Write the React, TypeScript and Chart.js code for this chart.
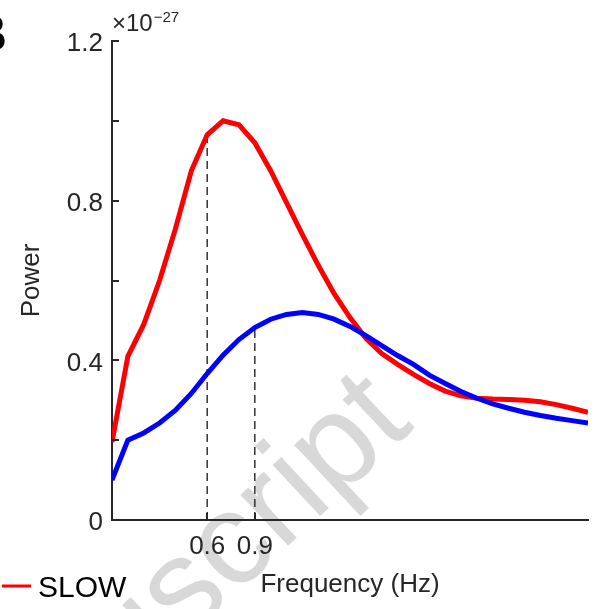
import React, { useEffect, useRef } from 'react';
import { Chart, registerables } from 'chart.js';

Chart.register(...registerables);

// ---- data (power in units of 1e-27) ----
const freqHz = [
  0.0, 0.1, 0.2, 0.3, 0.4, 0.5, 0.6, 0.7, 0.8, 0.9,
  1.0, 1.1, 1.2, 1.3, 1.4, 1.5, 1.6, 1.7, 1.8, 1.9,
  2.0, 2.1, 2.2, 2.3, 2.4, 2.5, 2.6, 2.7, 2.8, 2.9, 3.0,
];
const slowPower = [
  0.195, 0.41, 0.49, 0.60, 0.73, 0.875, 0.965, 1.0, 0.99, 0.945,
  0.875, 0.795, 0.715, 0.638, 0.567, 0.507, 0.455, 0.417, 0.39, 0.365,
  0.342, 0.323, 0.311, 0.305, 0.303, 0.302, 0.300, 0.296, 0.289, 0.28, 0.27,
];
const secondPower = [
  0.10, 0.20, 0.218, 0.243, 0.275, 0.317, 0.367, 0.413, 0.452, 0.482,
  0.503, 0.515, 0.52, 0.515, 0.503, 0.485, 0.462, 0.437, 0.412, 0.39,
  0.363, 0.342, 0.322, 0.305, 0.291, 0.280, 0.270, 0.262, 0.255, 0.249, 0.243,
];
const yTickValues = [0, 0.2, 0.4, 0.6, 0.8, 1.0, 1.2];
const yTickLabels = ['0', '', '0.4', '', '0.8', '', '1.2'];
const xTickValues = [0.6, 0.9];
const xTickLabels = ['0.6', '0.9'];
const slowMarkIndex = 6; // 0.6 Hz
const secondMarkIndex = 9; // 0.9 Hz

const FONT = '"Liberation Sans", Arial, Helvetica, sans-serif';
const AXIS = '#262626';

const decorPlugin = {
  id: 'decor',
  beforeDraw(chart: any) {
    const ctx = chart.ctx;
    ctx.save();
    // watermark
    ctx.font = `132px ${FONT}`;
    ctx.fillStyle = '#d8d8d8';
    ctx.translate(185, 642);
    ctx.rotate((-43 * Math.PI) / 180);
    const off = ctx.measureText('Manu').width;
    ctx.textBaseline = 'alphabetic';
    ctx.textAlign = 'left';
    ctx.fillText('Manuscript', -off, 0);
    ctx.restore();
  },
  afterDraw(chart: any) {
    const ctx = chart.ctx;
    const xs = chart.scales.x;
    const ys = chart.scales.y;
    const area = chart.chartArea;
    ctx.save();
    ctx.strokeStyle = AXIS;
    ctx.lineWidth = 2;
    // inward tick marks
    yTickValues.forEach((v) => {
      const py = Math.round(ys.getPixelForValue(v));
      ctx.beginPath();
      ctx.moveTo(area.left, py);
      ctx.lineTo(area.left + 7, py);
      ctx.stroke();
    });
    xTickValues.forEach((v) => {
      const px = Math.round(xs.getPixelForValue(v));
      ctx.beginPath();
      ctx.moveTo(px, area.bottom);
      ctx.lineTo(px, area.bottom - 7);
      ctx.stroke();
    });
    // exponent
    ctx.fillStyle = AXIS;
    ctx.textAlign = 'left';
    ctx.textBaseline = 'alphabetic';
    ctx.font = `24px ${FONT}`;
    ctx.fillText('\u00d710', 112, 31);
    const w = ctx.measureText('\u00d710').width;
    ctx.font = `15px ${FONT}`;
    ctx.fillText('\u221227', 112 + w + 1, 22);
    // panel letter
    ctx.fillStyle = '#000';
    ctx.font = `bold 52px ${FONT}`;
    ctx.textAlign = 'right';
    ctx.fillText('B', 7, 51);
    // legend
    ctx.strokeStyle = '#ff0000';
    ctx.lineWidth = 3;
    ctx.beginPath();
    ctx.moveTo(2, 586);
    ctx.lineTo(31, 586);
    ctx.stroke();
    ctx.fillStyle = '#000';
    ctx.textAlign = 'left';
    ctx.font = `30px ${FONT}`;
    ctx.fillText('SLOW', 38, 597);
    ctx.restore();
  },
};

export default function App() {
  const ref = useRef<HTMLCanvasElement | null>(null);
  useEffect(() => {
    if (!ref.current) return;
    const chart = new Chart(ref.current, {
      type: 'line',
      data: {
        datasets: [
          {
            label: 'second',
            data: freqHz.map((f, i) => ({ x: f, y: secondPower[i] })),
            borderColor: '#0000ff',
            borderWidth: 5,
            pointRadius: 0,
            tension: 0,
          },
          {
            label: 'SLOW',
            data: freqHz.map((f, i) => ({ x: f, y: slowPower[i] })),
            borderColor: '#ff0000',
            borderWidth: 5,
            pointRadius: 0,
            tension: 0,
          },
          {
            label: 'mark06',
            data: [
              { x: freqHz[slowMarkIndex], y: 0 },
              { x: freqHz[slowMarkIndex], y: slowPower[slowMarkIndex] },
            ],
            borderColor: '#333333',
            borderWidth: 1.5,
            borderDash: [8, 5],
            pointRadius: 0,
          },
          {
            label: 'mark09',
            data: [
              { x: freqHz[secondMarkIndex], y: 0 },
              { x: freqHz[secondMarkIndex], y: secondPower[secondMarkIndex] },
            ],
            borderColor: '#333333',
            borderWidth: 1.5,
            borderDash: [8, 5],
            pointRadius: 0,
          },
        ],
      },
      options: {
        animation: false,
        responsive: false,
        devicePixelRatio: 1,
        layout: { padding: { top: 41, right: 14, left: 0, bottom: 0 } },
        plugins: { legend: { display: false }, tooltip: { enabled: false } },
        scales: {
          x: {
            type: 'linear',
            min: 0,
            max: 3,
            afterBuildTicks: (s: any) => {
              s.ticks = xTickValues.map((v) => ({ value: v }));
            },
            afterFit: (s: any) => {
              s.height = 89;
            },
            ticks: {
              callback: (_v: any, i: number) => xTickLabels[i],
              font: { family: FONT, size: 26 },
              color: AXIS,
              padding: 11,
              maxRotation: 0,
              autoSkip: false,
            },
            grid: { display: false, drawTicks: false },
            border: { display: true, color: AXIS, width: 2 },
            title: {
              display: true,
              text: 'Frequency (Hz)',
              font: { family: FONT, size: 26 },
              color: AXIS,
              padding: { top: 0, bottom: 9 },
            },
          },
          y: {
            type: 'linear',
            min: 0,
            max: 1.2,
            afterBuildTicks: (s: any) => {
              s.ticks = yTickValues.map((v) => ({ value: v }));
            },
            afterFit: (s: any) => {
              s.width = 112;
            },
            ticks: {
              callback: (_v: any, i: number) => yTickLabels[i],
              font: { family: FONT, size: 26 },
              color: AXIS,
              padding: 9,
              labelOffset: 3,
              autoSkip: false,
            },
            grid: { display: false, drawTicks: false },
            border: { display: true, color: AXIS, width: 2 },
            title: {
              display: true,
              text: 'Power',
              font: { family: FONT, size: 26 },
              color: AXIS,
              padding: { top: 16, bottom: 0 },
            },
          },
        },
      },
      plugins: [decorPlugin],
    } as any);
    return () => chart.destroy();
  }, []);
  return (
    <div style={{ position: 'fixed', left: 0, top: 0, width: 602, height: 609, background: '#fff' }}>
      <canvas ref={ref} width={602} height={609} style={{ display: 'block' }} />
    </div>
  );
}
